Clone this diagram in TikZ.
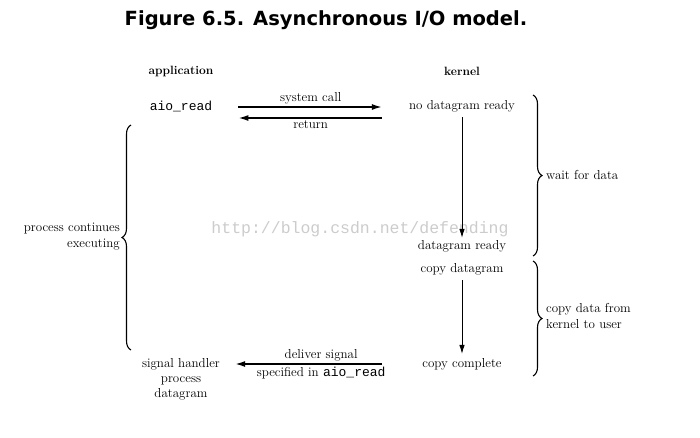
\documentclass[tikz,border=0pt]{standalone}
\usepackage{fontspec}
\newfontfamily\titlefont{DejaVu Sans}
\newfontfamily\monofont{Liberation Mono}
\usetikzlibrary{arrows.meta,decorations.pathreplacing}
\tikzset{
  lbl/.style={font=\fontsize{13}{15}\selectfont, inner sep=1pt, align=center},
  hdr/.style={font=\fontsize{12}{14}\selectfont\bfseries, inner sep=1pt},
  code/.style={font=\fontsize{13}{15}\selectfont\monofont, inner sep=1pt},
  arr/.style={line width=1.6pt, -{Latex[length=10pt,width=6pt]}},
  varr/.style={line width=1pt, -{Latex[length=9pt,width=5.5pt]}},
  brc/.style={line width=1.1pt, decorate, decoration={brace, amplitude=9pt}},
}
\begin{document}
\begin{tikzpicture}[x=1pt,y=1pt]
\useasboundingbox (0,0) rectangle (700,-437);
\node (title) at (326,-20) {\titlefont\bfseries\fontsize{19.5}{22}\selectfont Figure 6.5. Asynchronous I/O model.};
\node[text=black!20, font=\fontsize{16.5}{18}\selectfont\monofont] (wm) at (360,-229) {http://blog.csdn.net/defending};

\node[hdr] (app) at (181,-71) {application};
\node[hdr] (kern) at (462,-71) {kernel};
\node[code] (aio) at (181,-106) {aio\_read};
\node[lbl] (nd) at (462,-106) {no datagram ready};
\node[lbl] (dr) at (462,-246) {datagram ready};
\node[lbl] (cd) at (462,-269) {copy datagram};
\node[lbl] (cc) at (462,-364) {copy complete};
\node[lbl] (sh) at (181,-379) {signal handler\\process\\datagram};
\node[lbl, align=right, anchor=east, font=\fontsize{13}{16}\selectfont] (pce) at (121,-237) {process continues\\executing};
\node[lbl, anchor=west] (wfd) at (545,-175) {wait for data};
\node[lbl, align=left, anchor=west, font=\fontsize{13}{16}\selectfont] (cdk) at (545,-316) {copy data from\\kernel to user};

% horizontal arrows
\draw[arr, shorten <=25pt, shorten >=26pt] ([yshift=-1pt]aio.east) -- node[lbl, above=1pt] (sc) {system call} ([yshift=-1pt]nd.west);
\draw[arr, shorten <=26pt, shorten >=25pt] ([yshift=-12pt]nd.west) -- node[lbl, below=1pt] (ret) {return} ([yshift=-12pt]aio.east);
\draw[arr, shorten <=39pt, shorten >=14pt] (cc.west) -- node[lbl, above=1pt] (ds) {deliver signal} node[lbl, below=1pt] (spec) {specified in {\monofont aio\_read}} (sh.east |- cc.west);

% vertical arrows
\draw[varr, shorten <=4pt, shorten >=1pt] (nd.south) -- (dr.north);
\draw[varr, shorten <=4pt, shorten >=3pt] (cd.south) -- (cc.north);

% braces
\coordinate (b1t) at (533,-95);
\coordinate (b1b) at (533,-256);
\coordinate (b2t) at (533,-261);
\coordinate (b2b) at (533,-376);
\coordinate (b3t) at (131,-125);
\coordinate (b3b) at (131,-350);
\draw[brc] (b1t) -- (b1b);
\draw[brc] (b2t) -- (b2b);
\draw[brc] (b3b) -- (b3t);
\end{tikzpicture}
\end{document}
